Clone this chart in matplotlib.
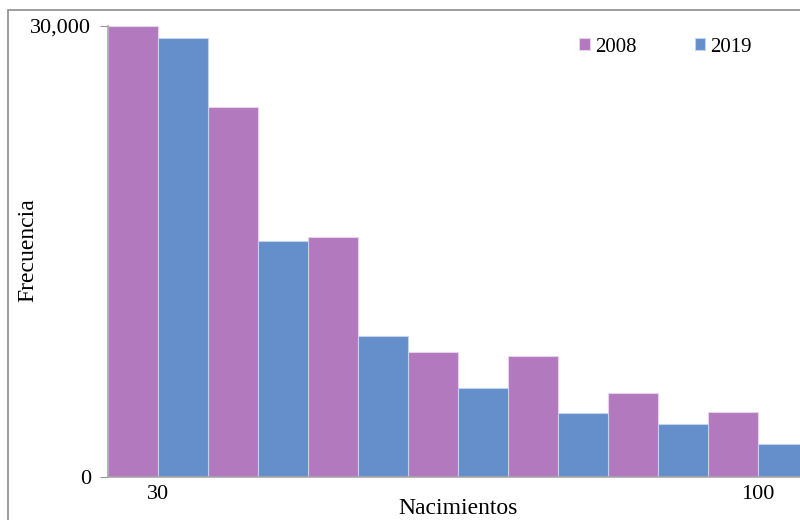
import numpy as np
import matplotlib.pyplot as plt
from matplotlib.patches import Rectangle

# data
groups = np.arange(7)
xlabels = ["30", "", "", "", "", "", "100"]
vals_2008 = [30000, 24600, 15950, 8300, 8050, 5570, 4320]
vals_2019 = [29200, 15720, 9400, 5920, 4240, 3500, 2170]

c2008 = "#B279BE"
c2019 = "#648FCB"

plt.rcParams["font.family"] = ["Liberation Serif", "DejaVu Serif"]

fig = plt.figure(figsize=(8, 5.2), dpi=100)
W, H = 800, 520
# axes runs past the right edge like the cropped original
ax = fig.add_axes([108 / W, 1 - 477 / H, 700 / W, (477 - 26) / H])

w = 0.5
ax.bar(groups - w / 2, vals_2008, width=w, color=c2008, edgecolor="#E6D3EA",
       linewidth=0.8, label="2008")
ax.bar(groups + w / 2, vals_2019, width=w, color=c2019, edgecolor="#C3D3EA",
       linewidth=0.8, label="2019")

ax.set_xlim(-0.5, 6.5)
ax.set_ylim(0, 30000)
ax.set_yticks([0, 30000])
ax.set_yticklabels(["0", "30,000"], fontsize=16)
ax.set_xticks(groups)
ax.set_xticklabels(xlabels, fontsize=16)
ax.tick_params(axis="x", length=0, pad=6)
ax.tick_params(axis="y", length=6, color="#999999", pad=6)

for s in ["top", "right"]:
    ax.spines[s].set_visible(False)
for s in ["left", "bottom"]:
    ax.spines[s].set_color("#A6A6A6")
    ax.spines[s].set_linewidth(1.2)

fig.text(28 / W, 1 - 250 / H, "Frecuencia", fontsize=17, rotation=90,
         ha="center", va="center")
fig.text(458 / W, 1 - 509 / H, "Nacimientos", fontsize=17,
         ha="center", va="center")

ax.legend(loc="upper right", bbox_to_anchor=(0.92, 0.974), ncol=2, frameon=False,
          fontsize=15, handlelength=0.5, handleheight=0.5, handletextpad=0.25,
          columnspacing=2.8, borderpad=0, borderaxespad=0)

# outer chart border
fig.patches.append(Rectangle((8 / W, -0.1), 1.2, 1 - 10 / H + 0.1,
                             transform=fig.transFigure, fill=False,
                             edgecolor="#8C8C8C", linewidth=1.2))

fig.savefig("out.png", dpi=100)
